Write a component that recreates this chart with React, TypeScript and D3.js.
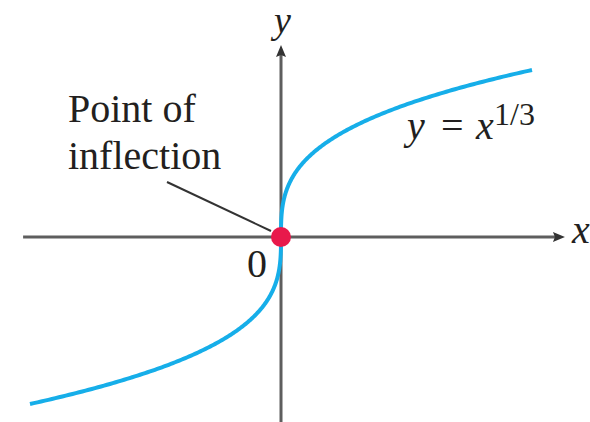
import React from "react";
import * as d3 from "d3";

// Function plotted: y = x^(1/3); sampled over y so the vertical part near 0 is smooth
const yDomain: [number, number] = [-2, 2];
const xDomain: [number, number] = [-8, 8];
const curveYs = d3.range(-2, 2.0001, 0.01);
const xAxisExtent: [number, number] = [-8.22, 9.05];
const yAxisExtent: [number, number] = [-2.22, 2.3];
const inflectionPoint = { x: 0, y: 0 };
const pointLabelLines = ["Point of", "inflection"];
const curveLabel = { lhs: "y", eq: "=", base: "x", sup: "1/3" };
const originLabel = "0";
const axisLabels = { x: "x", y: "y" };

const W = 590;
const H = 422;

export default function App() {
  const xScale = d3.scaleLinear().domain(xDomain).range([30, 532]);
  const yScale = d3.scaleLinear().domain(yDomain).range([404, 70]);

  const pts: [number, number][] = curveYs.map((y) => [y * y * y, y]);
  const line = d3
    .line<[number, number]>()
    .x((d) => xScale(d[0]))
    .y((d) => yScale(d[1]));

  const ox = xScale(0);
  const oy = yScale(0);
  const xEnd = xScale(xAxisExtent[1]);
  const yTop = yScale(yAxisExtent[1]);
  const axisColor = "#5e5e5e";
  const textColor = "#231f20";
  const fontStyle = { fontFamily: "Liberation Serif, Times New Roman, Times, serif" };

  return (
    <svg
      width={W}
      height={H}
      style={{ position: "absolute", left: 0, top: 0, background: "#fff" }}
    >
      <rect x={0} y={0} width={W} height={H} fill="#fff" />
      {/* x axis */}
      <line
        x1={xScale(xAxisExtent[0])}
        x2={xEnd - 8}
        y1={oy}
        y2={oy}
        stroke={axisColor}
        strokeWidth={3}
      />
      <polygon
        points={`${xEnd},${oy} ${xEnd - 12},${oy - 5} ${xEnd - 10},${oy} ${xEnd - 12},${oy + 5}`}
        fill="#333"
      />
      {/* y axis */}
      <line
        x1={ox}
        x2={ox}
        y1={yScale(yAxisExtent[0])}
        y2={yTop + 8}
        stroke={axisColor}
        strokeWidth={3}
      />
      <polygon
        points={`${ox},${yTop} ${ox - 5},${yTop + 12} ${ox},${yTop + 10} ${ox + 5},${yTop + 12}`}
        fill="#333"
      />
      {/* leader line */}
      <line x1={167} y1={182} x2={xScale(inflectionPoint.x) - 10} y2={yScale(inflectionPoint.y) - 6} stroke="#333" strokeWidth={2} />
      {/* curve */}
      <path d={line(pts) || ""} fill="none" stroke="#16aee9" strokeWidth={4} />
      {/* inflection point */}
      <circle cx={xScale(inflectionPoint.x)} cy={yScale(inflectionPoint.y)} r={10} fill="#e8194b" />
      {/* labels */}
      <g style={fontStyle} fill={textColor}>
        <text x={68} y={122} fontSize={40}>{pointLabelLines[0]}</text>
        <text x={68} y={169} fontSize={40}>{pointLabelLines[1]}</text>
        <text x={247} y={277} fontSize={40}>{originLabel}</text>
        <text x={274} y={33} fontSize={38} fontStyle="italic">{axisLabels.y}</text>
        <text x={572} y={243} fontSize={40} fontStyle="italic">{axisLabels.x}</text>
        <text x={407} y={139} fontSize={40} fontStyle="italic">{curveLabel.lhs}</text>
        <text x={441} y={139} fontSize={40}>{curveLabel.eq}</text>
        <text x={476} y={139} fontSize={40} fontStyle="italic">{curveLabel.base}</text>
        <text x={494} y={125} fontSize={32}>{curveLabel.sup}</text>
      </g>
    </svg>
  );
}
